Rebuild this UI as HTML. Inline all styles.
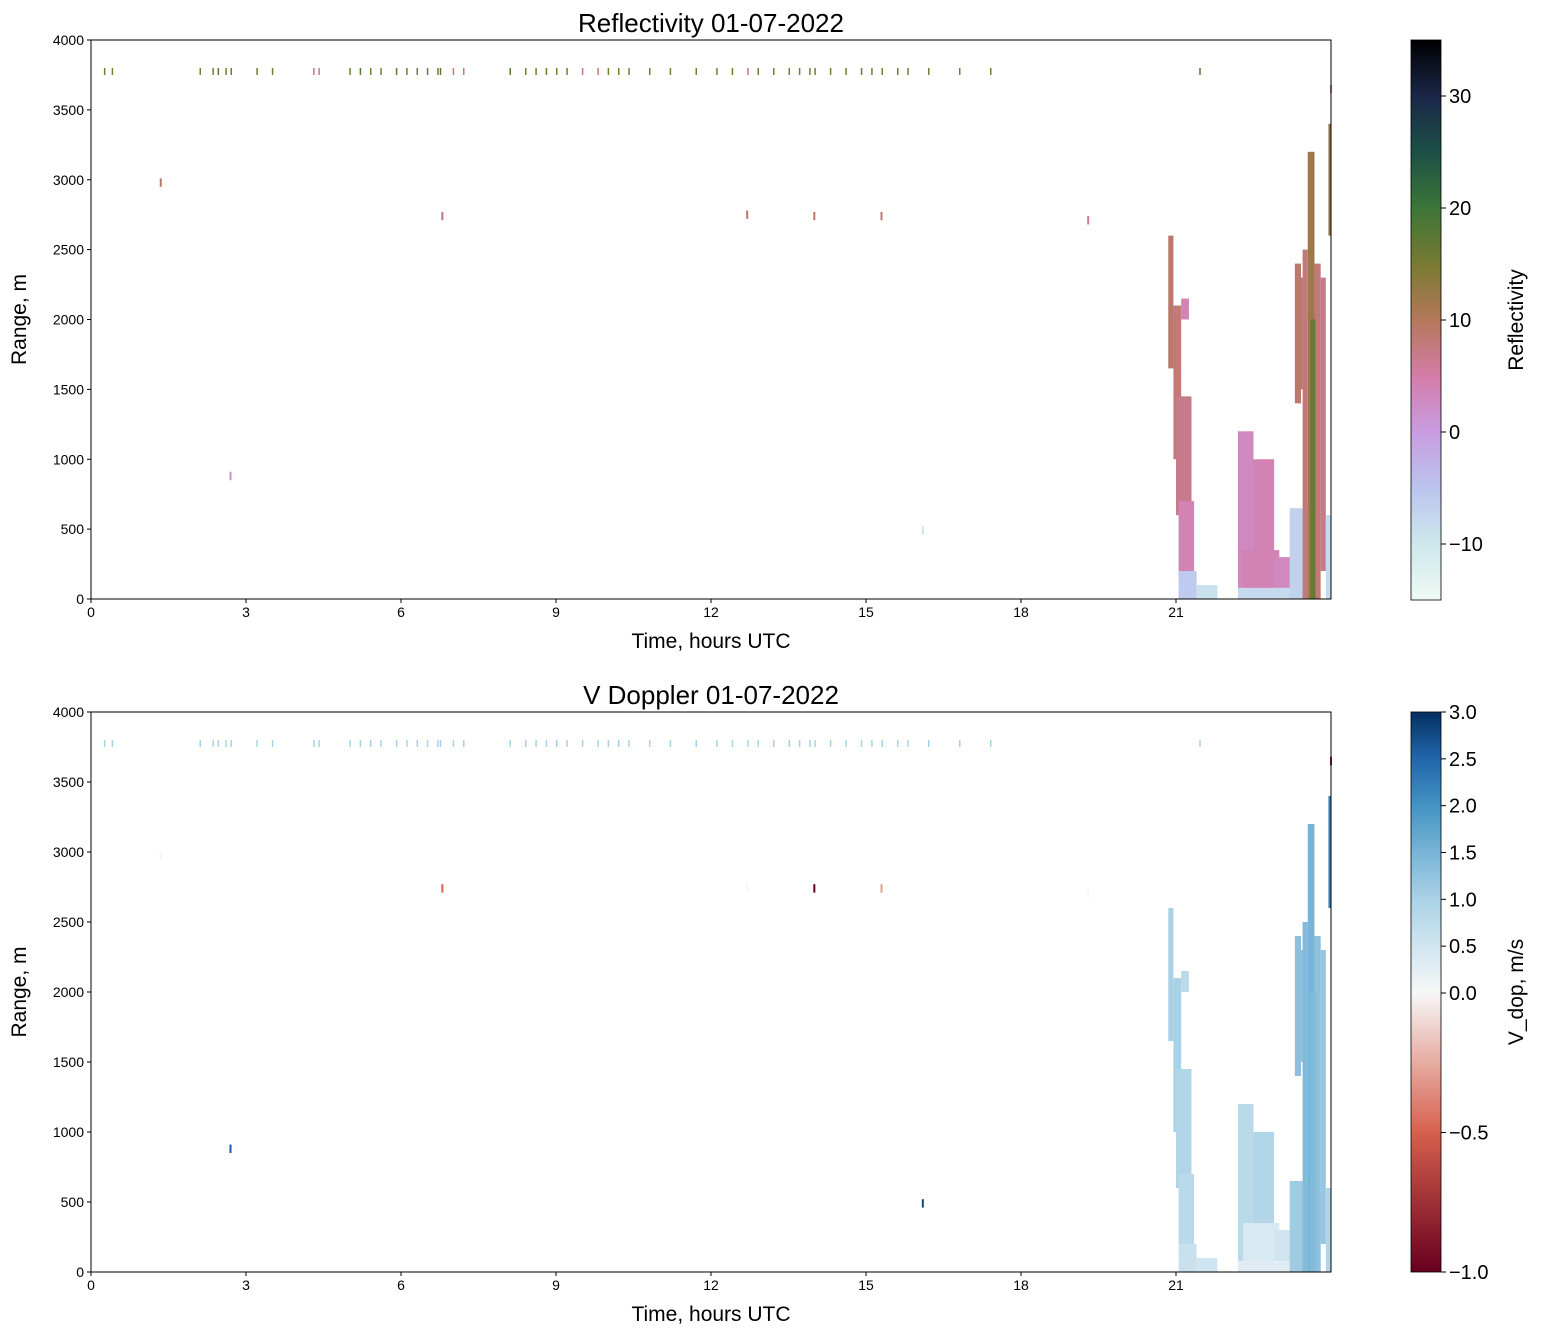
<!DOCTYPE html>
<html><head><meta charset="utf-8"><style>
body{margin:0;background:#fff;font-family:"Liberation Sans",sans-serif}
svg text{font-family:"Liberation Sans",sans-serif}
</style></head><body>
<svg id="fig" width="1543" height="1335" xmlns="http://www.w3.org/2000/svg">
<defs>
<linearGradient id="gz" x1="0" y1="1" x2="0" y2="0"></linearGradient>
<linearGradient id="gv" x1="0" y1="1" x2="0" y2="0"></linearGradient>
</defs>
</svg>
<script>
// cloud segments (hours, metres, reflectivity dBZ, doppler m/s)
const segStart=[20.85,20.95,21.0,21.05,21.05,21.4,22.2,22.5,22.3,22.9,22.2,23.2,23.3,23.45,23.55,23.68,23.8,23.9,23.95,23.6,23.35,21.1];
const segEnd  =[20.95,21.1,21.3,21.35,21.4,21.8,22.5,22.9,23.0,23.3,23.3,23.6,23.42,23.55,23.68,23.8,23.9,24.0,24.0,23.7,23.45,21.25];
const segLow  =[1650,1000,600,150,0,0,0,0,0,0,0,0,1400,0,0,0,200,0,2600,0,1500,2000];
const segHigh =[2600,2100,1450,700,200,100,1200,1000,350,300,80,650,2400,2500,3200,2400,2300,600,3400,2000,2300,2150];
const segZ    =[9,8,7,4,-6,-9,3,4,4,3,-8,-7,9,8,12,8,7,-8,13,16,9,4];
const segV    =[1.0,1.0,0.9,0.8,0.6,0.5,0.8,0.9,0.4,0.5,0.3,1.1,1.3,1.4,1.5,1.3,1.2,0.9,2.2,1.4,1.3,0.8];
// thin streaks near 3780 m
const rowTimes=[0.25,0.4,2.1,2.35,2.45,2.6,2.7,3.2,3.5,4.3,4.4,5.0,5.2,5.4,5.6,5.9,6.1,6.3,6.5,6.7,6.75,7.0,7.2,8.1,8.4,8.6,8.8,9.0,9.2,9.5,9.8,10.0,10.2,10.4,10.8,11.2,11.7,12.1,12.4,12.7,12.9,13.2,13.5,13.7,13.9,14.0,14.3,14.6,14.9,15.1,15.3,15.6,15.8,16.2,16.8,17.4,21.45];
const rowZ=[15,15,15,15,18,15,15,15,15,8,8,15,18,15,15,18,15,15,15,15,18,8,8,18,15,15,15,15,15,8,8,15,15,15,15,15,15,15,15,8,15,15,15,15,15,15,15,15,15,15,15,15,15,15,15,15,18];
// isolated points
const ptT=[1.35,2.7,6.8,12.7,14.0,15.3,19.3,16.1,24.0];
const ptR=[2980,880,2740,2750,2740,2740,2710,490,3650];
const ptZ=[9,2,8,9,9,8,6,-10,2];
const ptV=[0.0,2.6,-0.5,0.0,-1.0,-0.3,0.0,2.8,-0.8];
const xTicks=[0,3,6,9,12,15,18,21];
const yTicks=[0,500,1000,1500,2000,2500,3000,3500,4000];
const zTicks=[-10,0,10,20,30];
const vTicks=[-1.0,-0.5,0.0,0.5,1.0,1.5,2.0,2.5,3.0];

const NS='http://www.w3.org/2000/svg';
const svg=document.getElementById('fig');
function mk(tag,at,parent){const e=document.createElementNS(NS,tag);for(const k in at)e.setAttribute(k,at[k]);(parent||svg).appendChild(e);return e;}
const zStops=[[-15,[240,250,244]],[-10,[205,232,236]],[-5,[187,196,238]],[0,[200,156,224]],[5,[212,124,168]],[10,[180,120,90]],[15,[120,122,50]],[20,[60,118,56]],[25,[28,80,70]],[30,[26,38,72]],[35,[0,0,0]]];
const vStops=[[-1,[103,0,31]],[-0.5,[214,96,77]],[0,[247,247,247]],[0.5,[209,229,240]],[1,[170,210,230]],[1.5,[120,180,214]],[2,[67,147,195]],[2.5,[33,102,172]],[3,[5,48,97]]];
function cm(st,v){v=Math.max(st[0][0],Math.min(st[st.length-1][0],v));for(let i=0;i<st.length-1;i++){const a=st[i],b=st[i+1];if(v<=b[0]){const f=(v-a[0])/(b[0]-a[0]);const c=a[1].map((x,j)=>Math.round(x+(b[1][j]-x)*f));return `rgb(${c})`;}}return `rgb(${st[st.length-1][1]})`;}
const X0=91,X1=1331;
const sx=t=>X0+(X1-X0)*t/24;

function panel(top,bot,title,useZ,name){
  const g=mk('g',{});
  const sy=r=>bot-(bot-top)*r/4000;
  const marks=mk('g',{},g);
  for(let i=0;i<segStart.length;i++){
    const e=mk('rect',{x:sx(segStart[i]),y:sy(segHigh[i]),width:sx(segEnd[i])-sx(segStart[i]),height:sy(segLow[i])-sy(segHigh[i]),fill:useZ?cm(zStops,segZ[i]):cm(vStops,segV[i])},marks);
    
    
  }
  for(let i=0;i<rowTimes.length;i++){
    const e=mk('rect',{x:sx(rowTimes[i]),y:sy(3800),width:1.5,height:sy(3750)-sy(3800),fill:useZ?cm(zStops,rowZ[i]):cm(vStops,1.0)},marks);
    
    
  }
  for(let i=0;i<ptT.length;i++){
    const e=mk('rect',{x:sx(ptT[i])-1,y:sy(ptR[i]+30),width:2,height:sy(ptR[i]-30)-sy(ptR[i]+30),fill:useZ?cm(zStops,ptZ[i]):cm(vStops,ptV[i])},marks);
    
    
  }
  mk('rect',{x:X0,y:top,width:X1-X0,height:bot-top,fill:'none',stroke:'#000','stroke-width':1,},g);
  xTicks.forEach(t=>{mk('line',{x1:sx(t),x2:sx(t),y1:bot,y2:bot+4,stroke:'#000'},g);
    const tx=mk('text',{x:sx(t),y:bot+18,'font-size':14,'text-anchor':'middle',},g);tx.textContent=t;});
  yTicks.forEach(r=>{mk('line',{x1:X0-4,x2:X0,y1:sy(r),y2:sy(r),stroke:'#000'},g);
    const tx=mk('text',{x:X0-7,y:sy(r)+5,'font-size':14,'text-anchor':'end',},g);tx.textContent=r;});
  let t=mk('text',{x:711,y:top-8,'font-size':26,'text-anchor':'middle',},g);t.textContent=title;
  t=mk('text',{x:711,y:bot+49,'font-size':21,'text-anchor':'middle',},g);t.textContent='Time, hours UTC';
  t=mk('text',{x:26,y:(top+bot)/2,'font-size':21,'text-anchor':'middle',transform:`rotate(-90 26 ${(top+bot)/2})`,},g);t.textContent='Range, m';
}
panel(40,599,'Reflectivity 01-07-2022',true,'reflectivity-panel');
panel(712,1272,'V Doppler 01-07-2022',false,'doppler-panel');

// colorbars
function cbar(top,bot,stops,vmap,ticks,label,gid,name,fmt){
  const g=mk('g',{});
  const grad=document.getElementById(gid);
  stops.forEach(s=>mk('stop',{offset:((bot-vmap(s[0]))/(bot-top)),'stop-color':`rgb(${s[1]})`},grad));
  mk('rect',{x:1411,y:top,width:30,height:bot-top,fill:`url(#${gid})`,stroke:'#000','stroke-width':0.8},g);
  ticks.forEach(v=>{const y=vmap(v);mk('line',{x1:1441,x2:1446,y1:y,y2:y,stroke:'#000'},g);
    const tx=mk('text',{x:1449,y:y+7,'font-size':20,},g);tx.textContent=fmt(v);});
  const my=(top+bot)/2;
  const t=mk('text',{x:1523,y:my,'font-size':21,'text-anchor':'middle',transform:`rotate(-90 1523 ${my})`,},g);t.textContent=label;
}
const minus=s=>s.replace('-','\u2212');
cbar(40,600,zStops,v=>600-(v+15)*560/50,zTicks,'Reflectivity','gz','reflectivity-colorbar',v=>minus(String(v)));
cbar(712,1272,vStops,v=>v>=0?993-v*281/3:993-v*279,vTicks,'V_dop, m/s','gv','doppler-colorbar',v=>minus(v.toFixed(1)));
</script>
</body></html>
